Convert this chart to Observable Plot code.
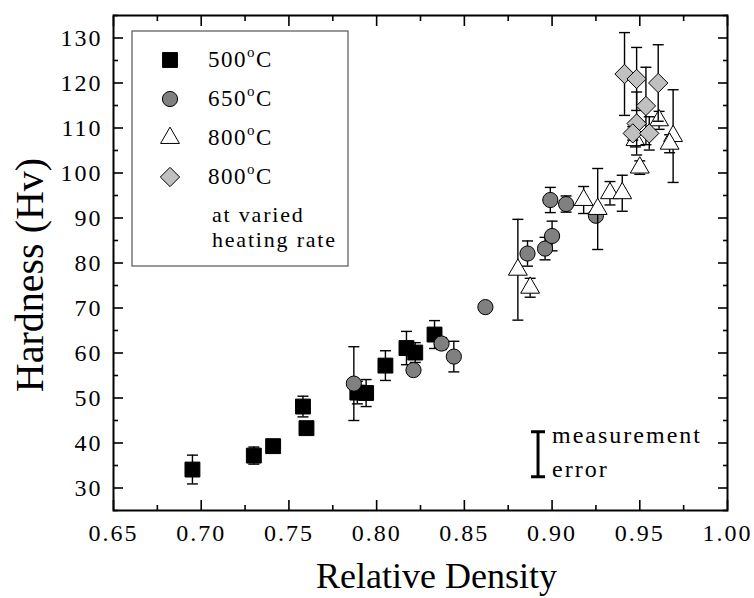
<!DOCTYPE html>
<html><head><meta charset="utf-8">
<script src="https://cdn.jsdelivr.net/npm/d3@7"></script>
<script src="https://cdn.jsdelivr.net/npm/@observablehq/plot@0.6"></script>
<style>
body{margin:0;background:#fff}
#chart{width:754px;height:598px}
</style>
</head><body><div id="chart"></div>
<script>
// ---- data ----
const temp500X   = [0.695, 0.730, 0.741, 0.758, 0.760, 0.789, 0.794, 0.805, 0.817, 0.822, 0.833];
const temp500Y   = [34.1, 37.2, 39.3, 48.1, 43.3, 51.2, 51.1, 57.2, 61.1, 60.1, 64.1];
const temp500Err = [3.2, 1.9, 0.8, 2.3, 0.8, 2.5, 3.0, 3.3, 3.7, 2.2, 3.1];

const temp650X   = [0.787, 0.821, 0.837, 0.844, 0.862, 0.886, 0.896, 0.900, 0.899, 0.908, 0.925];
const temp650Y   = [53.2, 56.2, 62.1, 59.2, 70.2, 82.1, 83.2, 86.0, 94.0, 93.1, 90.5];
const temp650Err = [8.2, 1.0, 1.3, 3.4, 1.0, 2.8, 2.5, 3.3, 2.8, 1.8, 1.0];

const temp800X   = [0.8805, 0.8875, 0.918, 0.926, 0.933, 0.940, 0.950, 0.9475, 0.961, 0.969, 0.967];
const temp800Y   = [78.5, 74.5, 94.0, 92.0, 95.5, 95.5, 101.2, 107.3, 111.7, 108.2, 106.5];
const temp800Err = [11.2, 2.1, 3.0, 9.0, 2.6, 4.0, 1.5, 1.5, 2.0, 10.3, 2.0];

const variedX    = [0.9413, 0.9482, 0.9605, 0.9535, 0.9482, 0.9460, 0.9554];
const variedY    = [122.0, 120.9, 120.0, 114.9, 111.0, 108.8, 108.8];
const variedErr  = [9.2, 7.0, 8.5, 8.6, 7.0, 1.5, 3.7];

const measX = [0.892], measLow = [32.5], measHigh = [42.5];
const measLabels = ["measurement", "error"];
const measLabelY = [40, 32.5];

const xTicks = [0.65, 0.70, 0.75, 0.80, 0.85, 0.90, 0.95, 1.00];
const xMinor = [0.675, 0.725, 0.775, 0.825, 0.875, 0.925, 0.975];
const yTicks = [30, 40, 50, 60, 70, 80, 90, 100, 110, 120, 130];
const yMinor = [25, 35, 45, 55, 65, 75, 85, 95, 105, 115, 125, 135];

const legendLabels = ["500", "650", "800", "800"];
const legendExtra = ["at varied", "heating rate"];
const xTitle = "Relative Density";
const yTitle = "Hardness (Hv)";

// ---- build ----
const toRows = (xs, ys, es) => xs.map((x, i) => ({x, y: ys[i], e: es[i]}));
const d500 = toRows(temp500X, temp500Y, temp500Err);
const d650 = toRows(temp650X, temp650Y, temp650Err);
const d800 = toRows(temp800X, temp800Y, temp800Err);
const dVar = toRows(variedX, variedY, variedErr);
const meas = measX.map((x, i) => ({x, lo: measLow[i], hi: measHigh[i]}));
const measText = measLabels.map((t, i) => ({t, x: measX[0], y: measLabelY[i]}));

const FONT = "'Liberation Serif','Times New Roman',serif";
const capSym = {draw(ctx, size){ const r = Math.sqrt(size/Math.PI); ctx.moveTo(-r,0); ctx.lineTo(r,0); }};

function series(data, symbol, r, fill){
  return [
    Plot.ruleX(data, {x:"x", y1:d=>d.y-d.e, y2:d=>d.y+d.e, stroke:"black", strokeWidth:1.4}),
    Plot.dot(data, {x:"x", y:d=>d.y+d.e, symbol:capSym, r:5.5, stroke:"black", strokeWidth:1.4, fill:"none"}),
    Plot.dot(data, {x:"x", y:d=>d.y-d.e, symbol:capSym, r:5.5, stroke:"black", strokeWidth:1.4, fill:"none"}),
    Plot.dot(data, {x:"x", y:"y", symbol, r, fill, stroke:"black", strokeWidth:1})
  ];
}

const plot = Plot.plot({
  width: 754, height: 598,
  marginLeft: 113, marginRight: 27, marginTop: 15, marginBottom: 88,
  style: {fontFamily: FONT, color: "black", background: "white", overflow: "visible"},
  x: {domain: [0.65, 1.00], label: null},
  y: {domain: [25, 135], label: null},
  marks: [
    ...series(d500, "square", 8.4, "black"),
    ...series(d650, "circle", 7.6, "#808080"),
    ...series(d800, "triangle", 7.0, "white"),
    ...series(dVar, "diamond2", 8.7, "#c0c0c0"),
    // measurement error indicator
    Plot.ruleX(meas, {x:"x", y1:"lo", y2:"hi", stroke:"black", strokeWidth:3}),
    Plot.dot(meas, {x:"x", y:"lo", symbol:capSym, r:7, stroke:"black", strokeWidth:3, fill:"none"}),
    Plot.dot(meas, {x:"x", y:"hi", symbol:capSym, r:7, stroke:"black", strokeWidth:3, fill:"none"}),
    Plot.text(measText, {x:"x", y:"y", text:"t", dx:14, textAnchor:"start", lineAnchor:"bottom", fontSize:24, fill:"black"}),
    // axes: labels
    Plot.axisX(xTicks, {anchor:"bottom", tickSize:0, tickPadding:13, tickFormat:d3.format(".2f"), fontSize:24, label:null}),
    Plot.axisY(yTicks, {anchor:"left", tickSize:0, tickPadding:11, tickFormat:d3.format("d"), fontSize:24, label:null}),
    // inward ticks on all four sides
    Plot.axisX(xTicks, {anchor:"bottom", tickSize:-10, tickFormat:()=>"", strokeWidth:1.6, label:null}),
    Plot.axisX(xMinor, {anchor:"bottom", tickSize:-5, tickFormat:()=>"", strokeWidth:1.6, label:null}),
    Plot.axisX(xTicks, {anchor:"top", tickSize:-10, tickFormat:()=>"", strokeWidth:1.6, label:null}),
    Plot.axisX(xMinor, {anchor:"top", tickSize:-5, tickFormat:()=>"", strokeWidth:1.6, label:null}),
    Plot.axisY(yTicks, {anchor:"left", tickSize:-10, tickFormat:()=>"", strokeWidth:1.6, label:null}),
    Plot.axisY(yMinor, {anchor:"left", tickSize:-5, tickFormat:()=>"", strokeWidth:1.6, label:null}),
    Plot.axisY(yTicks, {anchor:"right", tickSize:-10, tickFormat:()=>"", strokeWidth:1.6, label:null}),
    Plot.axisY(yMinor, {anchor:"right", tickSize:-5, tickFormat:()=>"", strokeWidth:1.6, label:null}),
    Plot.frame({stroke:"black", strokeWidth:2}),
    // axis titles
    Plot.text([xTitle], {frameAnchor:"bottom", textAnchor:"middle", dx:16, dy:77, lineAnchor:"bottom", fontSize:36, fill:"black"}),
    Plot.text([yTitle], {frameAnchor:"left", textAnchor:"middle", rotate:-90, dx:-71, dy:12, lineAnchor:"bottom", fontSize:40, fill:"black"})
  ]
});

// tick-label and annotation letter spacing like the reference
d3.select(plot).selectAll("g[aria-label='x-axis tick label'] text, g[aria-label='y-axis tick label'] text")
  .style("letter-spacing", "2px");
d3.select(plot).selectAll("g[aria-label='text'] text")
  .filter(function(){ return measLabels.includes(this.textContent); })
  .style("letter-spacing", "2px");

// legend (decoration, not data)
const svg = d3.select(plot);
const lg = svg.append("g").attr("font-family", FONT).attr("fill", "black").attr("text-anchor", "start");
lg.append("rect").attr("x", 132).attr("y", 31).attr("width", 216).attr("height", 235)
  .attr("fill", "white").attr("stroke", "#555").attr("stroke-width", 1.2);
const legSyms = [
  {sym: d3.symbolSquare, r: 8.4, fill: "black"},
  {sym: d3.symbolCircle, r: 7.6, fill: "#808080"},
  {sym: d3.symbolTriangle, r: 7.0, fill: "white"},
  {sym: d3.symbolDiamond2, r: 8.7, fill: "#c0c0c0"}
];
legSyms.forEach((s, i) => {
  const cy = 60 + i * 39;
  lg.append("path").attr("transform", `translate(170,${cy})`)
    .attr("d", d3.symbol(s.sym, s.r * s.r * Math.PI)())
    .attr("fill", s.fill).attr("stroke", "black").attr("stroke-width", 1);
  const t = lg.append("text").attr("x", 208).attr("y", cy + 7).attr("font-size", 23)
    .attr("text-anchor", "start").style("letter-spacing", "1.5px");
  t.append("tspan").text(legendLabels[i]);
  t.append("tspan").attr("font-size", 15).attr("dy", -10).text("o");
  t.append("tspan").attr("dy", 10).text("C");
});
legendExtra.forEach((txt, i) => {
  lg.append("text").attr("x", 212).attr("y", 222 + i * 25).attr("font-size", 22)
    .attr("text-anchor", "start").style("letter-spacing", "1.8px").text(txt);
});

document.getElementById("chart").appendChild(plot);
</script>
</body></html>
